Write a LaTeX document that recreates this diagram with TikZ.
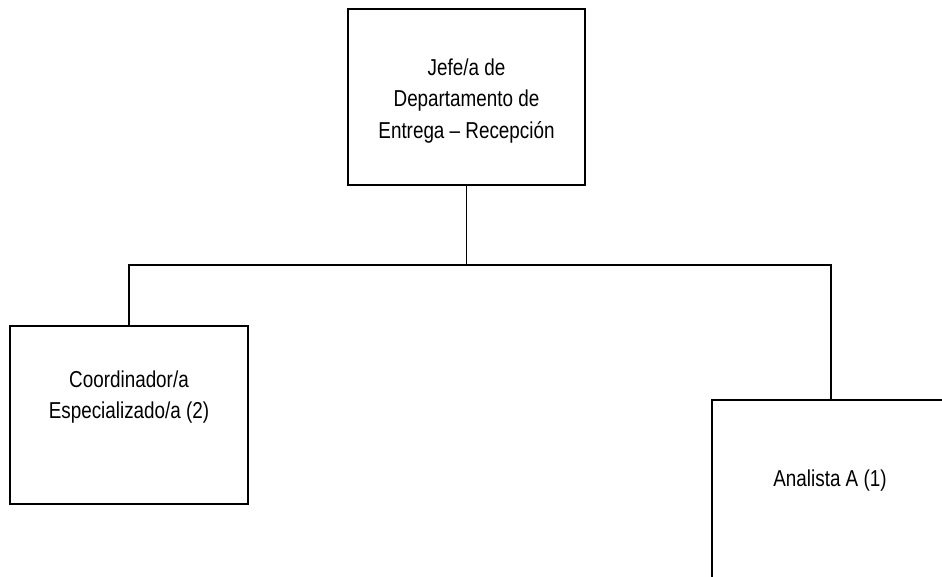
\documentclass[tikz,border=0pt]{standalone}
\usepackage{fontspec}
\setmainfont[FakeStretch=0.82]{Liberation Sans}
\begin{document}
\begin{tikzpicture}[x=1pt,y=-1pt,
  box/.style={draw=black,line width=1.6pt,fill=white,inner sep=0pt,
    minimum width=237pt,minimum height=176pt},
  label/.style={align=center,inner sep=0pt,font=\fontsize{23}{31.5}\selectfont},
  link/.style={draw=black,line width=1.6pt}]
  \clip (0,0) rectangle (942,577);
  \fill[white] (0,0) rectangle (942,577);

  % boxes
  \node[box] (top)   at (466.5,97) {};
  \node[box,minimum width=238pt,minimum height=178pt] (left)  at (129,415) {};
  \node[box,minimum width=238pt,minimum height=178pt] (right) at (831,489) {};

  % connectors
  \coordinate (bus) at (466.5,265);
  \draw[link] (top.south) -- (bus);
  \draw[link] (bus) -| (left.north);
  \draw[link] (bus) -| (right.north);

  % texts
  \node[label] (ttop)   at (466.5,101) {Jefe/a de\\Departamento de\\Entrega – Recepción};
  \node[label] (tleft)  at (129,397) {Coordinador/a\\Especializado/a (2)};
  \node[label] (tright) at (830,481) {Analista A (1)};
\end{tikzpicture}
\end{document}
